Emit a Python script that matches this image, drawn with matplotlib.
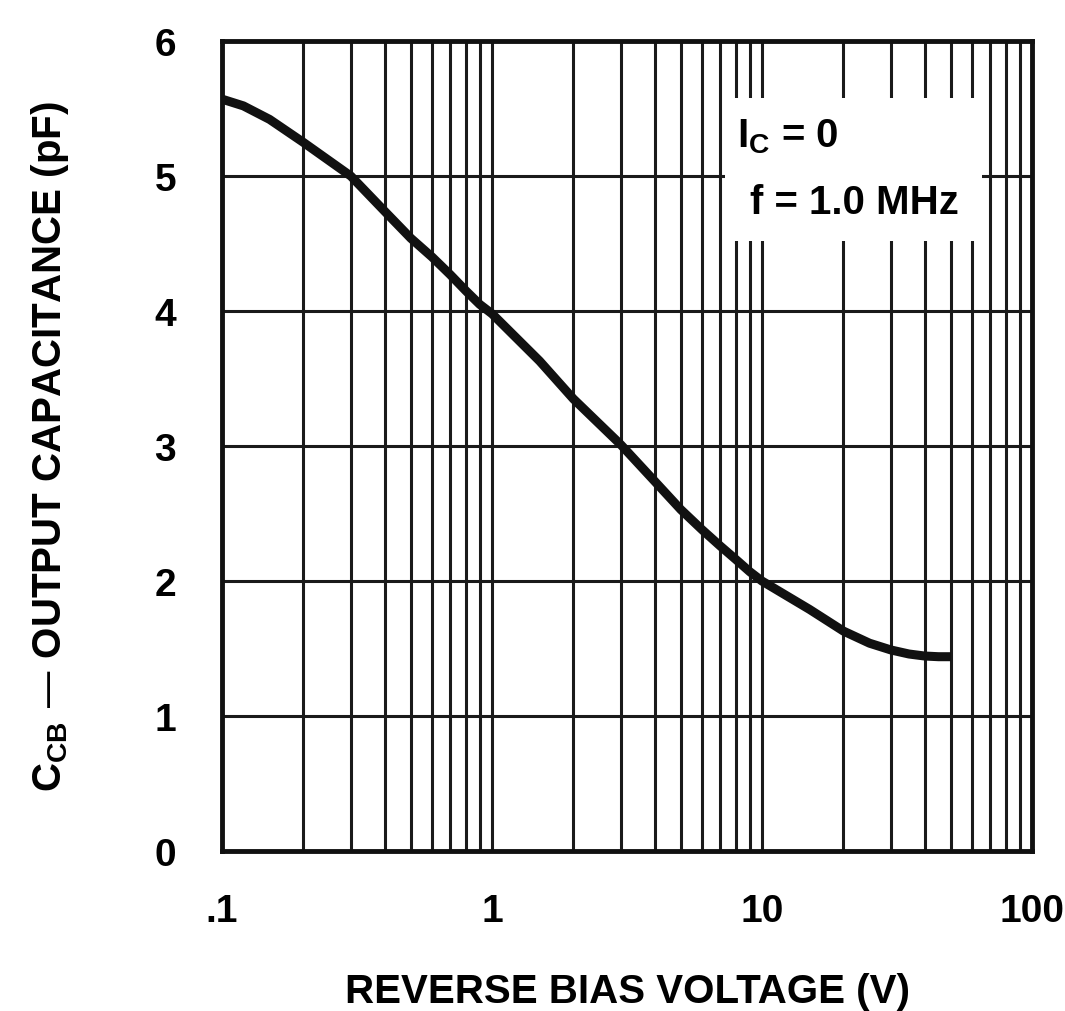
import matplotlib
matplotlib.use("Agg")
import matplotlib.pyplot as plt
from matplotlib.patches import Rectangle
from matplotlib.ticker import FixedLocator, LogLocator, NullFormatter

# reverse bias voltage (V) and output capacitance (pF)
voltage = [0.1, 0.12, 0.15, 0.2, 0.3, 0.4, 0.5, 0.6, 0.7, 0.8, 0.9,
           1, 1.5, 2, 3, 4, 5, 6, 7, 8, 9, 10, 15, 20, 25, 30, 35, 40, 45, 50]
capacitance = [5.57, 5.52, 5.42, 5.25, 5.0, 4.74, 4.54, 4.4, 4.27, 4.15, 4.05,
               3.98, 3.63, 3.35, 3.01, 2.74, 2.53, 2.38, 2.26, 2.16, 2.07,
               2.0, 1.79, 1.63, 1.54, 1.49, 1.46, 1.445, 1.44, 1.44]

x_ticks = [0.1, 1, 10, 100]
x_tick_labels = [".1", "1", "10", "100"]
y_ticks = [0, 1, 2, 3, 4, 5, 6]

plt.rcParams['font.family'] = ['Liberation Sans', 'DejaVu Sans']
plt.rcParams['font.weight'] = 'bold'
plt.rcParams['axes.labelweight'] = 'bold'
plt.rcParams['mathtext.default'] = 'regular'

fig = plt.figure(figsize=(10.65, 10.12), dpi=100)
ax = fig.add_axes([0.2085, 0.158, 0.7606, 0.8004])

# the curve
ax.plot(voltage, capacitance, color='#111111', lw=6.5, solid_capstyle='butt',
        solid_joinstyle='round', zorder=5)

ax.set_xscale('log')
ax.set_xlim(0.1, 100)
ax.set_ylim(0, 6)

ax.xaxis.set_major_locator(FixedLocator(x_ticks))
ax.set_xticklabels(x_tick_labels)
ax.xaxis.set_minor_locator(LogLocator(base=10, subs=range(2, 10)))
ax.xaxis.set_minor_formatter(NullFormatter())
ax.set_yticks(y_ticks)

# log grid on every minor decade line
ax.grid(True, which='both', axis='x', color='#1a1a1a', lw=2.2)
ax.grid(True, which='major', axis='y', color='#1a1a1a', lw=2.2)
ax.set_axisbelow(True)

ax.tick_params(which='both', length=0)
ax.tick_params(axis='x', labelsize=28, pad=30)
ax.tick_params(axis='y', labelsize=28, pad=33)

for s in ax.spines.values():
    s.set_linewidth(3.5)
    s.set_color('#111111')

# white box for the test conditions
ax.add_patch(Rectangle((7.3, 4.52), 65 - 7.3, 5.58 - 4.52, facecolor='white',
                       edgecolor='none', zorder=2))
ax.text(8.1, 5.3, "I$_C$ = 0", fontsize=29, ha='left', va='center', zorder=3)
ax.text(9.0, 4.81, "f = 1.0 MHz", fontsize=29, ha='left', va='center', zorder=3)

ax.set_xlabel("REVERSE BIAS VOLTAGE (V)", fontsize=29, labelpad=31)
ax.set_ylabel("C$_{CB}$ \u2014 OUTPUT CAPACITANCE (pF)", fontsize=29, labelpad=60)

fig.savefig("out.png", dpi=100)
